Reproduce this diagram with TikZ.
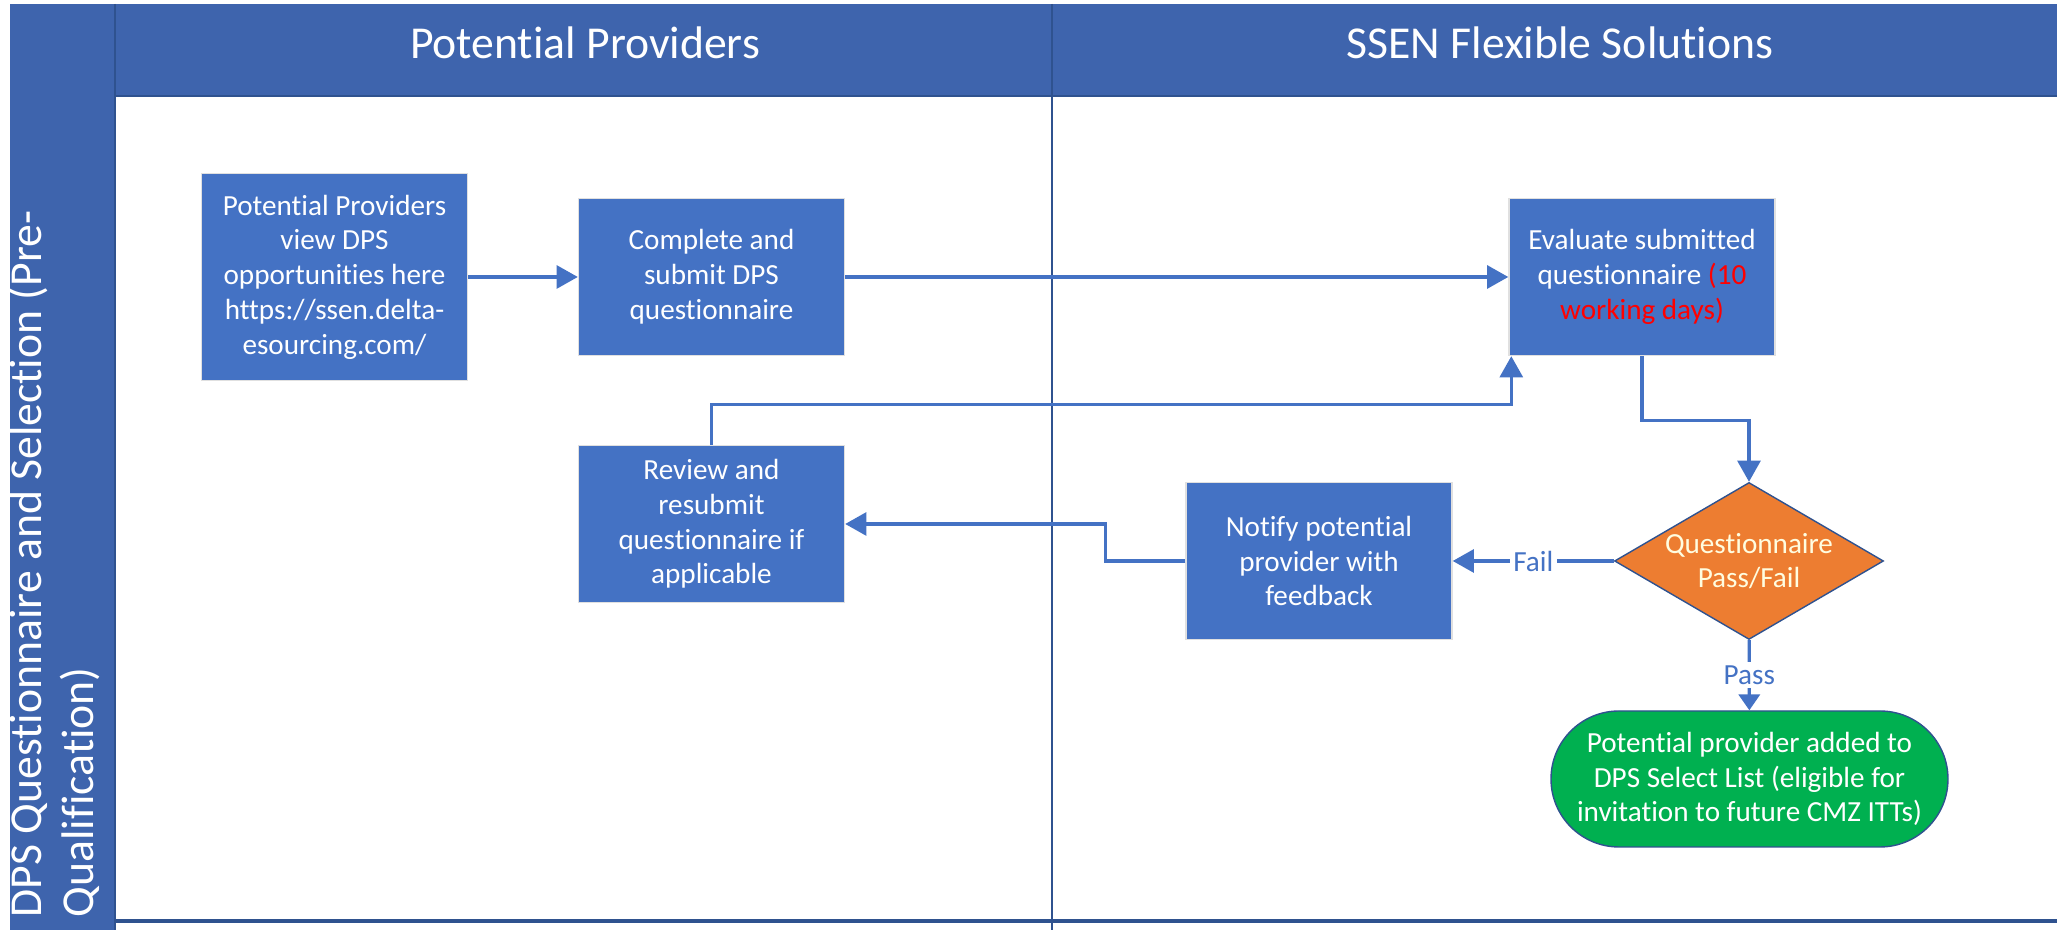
\documentclass[tikz,border=0pt]{standalone}
\usepackage{fontspec}
\setmainfont{Carlito}[Ligatures=NoCommon]
\usepackage{tikz}
\usetikzlibrary{arrows.meta}
\usetikzlibrary{calc}
\usetikzlibrary{shapes}

\definecolor{laneblue}{RGB}{62,100,173}
\definecolor{laneline}{RGB}{47,82,143}
\definecolor{boxblue}{RGB}{68,114,196}
\definecolor{diaorange}{RGB}{237,125,49}
\definecolor{endgreen}{RGB}{0,176,80}

\begin{document}
\begin{tikzpicture}[font=\fontsize{8.3}{9.9}\selectfont,
        box_style/.style={rectangle,draw=black!12,fill=boxblue,text=white,align=center,minimum width=2.66cm,minimum height=1.57cm,inner sep=1pt},
        decision_style/.style={diamond,aspect=1.71,draw=laneline,fill=diaorange,text=white!88!yellow,align=center,minimum width=2.69cm,minimum height=1.57cm,inner sep=0pt},
        end_style/.style={rectangle,rounded corners=0.68cm,draw=laneline,fill=endgreen,text=white,align=center,minimum width=3.97cm,minimum height=1.36cm,inner sep=0pt},
        header_style/.style={text=white,font=\fontsize{13}{14.8}\selectfont},
        lane_line/.style={draw=laneline,line width=0.6pt},
        flow_style/.style={draw=boxblue,line width=0.9pt,-{Triangle[length=6pt,width=6.5pt]}},
        label_style/.style={fill=white,text=boxblue,inner sep=1pt}]

        \useasboundingbox (0,0) rectangle (20.57,9.30);

        % swimlane frame
        \fill [laneblue] (0.10,0) rectangle (1.15,9.26);
        \fill [laneblue] (1.15,8.34) rectangle (20.57,9.26);
        \draw [lane_line] (1.15,9.26) -- (1.15,0);
        \draw [lane_line] (1.15,8.34) -- (20.57,8.34);
        \draw [lane_line,line width=0.5pt] (10.52,9.26) -- (10.52,0);
        \draw [lane_line,line width=1.1pt] (1.15,0.09) -- (20.57,0.09);

        \node [header_style](h1) at (5.85,8.87) {Potential Providers};
        \node [header_style](h2) at (15.6,8.87) {SSEN Flexible Solutions};
        \begin{scope}
        \clip (0.10,0) rectangle (1.15,9.26);
        \node [header_style,rotate=90,anchor=north west,align=left,inner sep=0pt](h3) at (0.07,0.12) {DPS Questionnaire and Selection (Pre-\\Qualification)};
        \end{scope}

        % steps
        \node [box_style,minimum height=2.07cm](n1) at (3.345,6.53) {Potential Providers\\view DPS\\opportunities here\\https://ssen.delta-\\esourcing.com/};
        \node [box_style](n2) at (7.115,6.53) {Complete and\\submit DPS\\questionnaire};
        \node [box_style](n3) at (16.42,6.53) {Evaluate submitted\\questionnaire \textcolor{red}{(10}\\\textcolor{red}{working days)}};
        \node [box_style](n4) at (7.115,4.06) {Review and\\resubmit\\questionnaire if\\applicable};
        \node [box_style](n5) at (13.19,3.69) {Notify potential\\provider with\\feedback};
        \node [decision_style](n6) at (17.49,3.69) {Questionnaire\\Pass/Fail};
        \node [end_style](n7) at (17.495,1.51) {Potential provider added to\\DPS Select List (eligible for\\invitation to future CMZ ITTs)};

        \draw [flow_style] (n1) -- (n2);
        \draw [flow_style] (n2) -- (n3);
        \draw [flow_style] (n3.south) -- ++(0,-0.64) -| (n6.north);
        \draw [flow_style] (n6) -- node[label_style]{Fail} (n5);
        \draw [flow_style] (n5.west) -- ++(-0.8,0) |- (n4.east);
        \draw [flow_style] (n4.north) |- ($(n3.south west)+(0.03,-0.48)$) -- ($(n3.south west)+(0.03,0)$);
        \draw [flow_style,-{Triangle[length=4.5pt,width=6pt]}] (n6) -- node[label_style]{Pass} (n7);
        \end{tikzpicture}
\end{document}
